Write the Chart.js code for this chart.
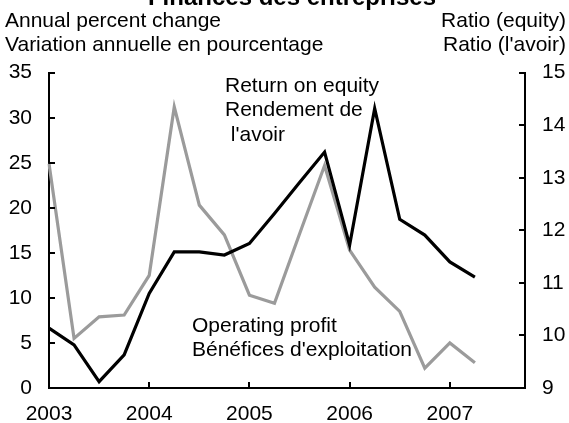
<!DOCTYPE html>
<html>
<head>
<meta charset="utf-8">
<script src="https://cdn.jsdelivr.net/npm/chart.js@4"></script>
<style>
  html, body { margin: 0; padding: 0; background: #ffffff; }
  canvas { display: block; }
</style>
</head>
<body>
<canvas id="chart" width="569" height="423"></canvas>
<script>
// Quarterly categories, 2003Q1 to 2007Q4
const quarters = [
  '2003Q1', '2003Q2', '2003Q3', '2003Q4',
  '2004Q1', '2004Q2', '2004Q3', '2004Q4',
  '2005Q1', '2005Q2', '2005Q3', '2005Q4',
  '2006Q1', '2006Q2', '2006Q3', '2006Q4',
  '2007Q1', '2007Q2', '2007Q3', '2007Q4'
];

// Operating profit, annual percent change (left axis)
const operatingProfit = [
  24.9, 5.5, 7.9, 8.1,
  12.5, 31.2, 20.3, 17.0,
  10.3, 9.4, 17.1, 24.7,
  15.3, 11.2, 8.5, 2.2,
  5.0, 2.8
];

// Return on equity, ratio (right axis)
const returnOnEquity = [
  10.14, 9.82, 9.12, 9.63,
  10.80, 11.59, 11.59, 11.53,
  11.75, 12.32, 12.91, 13.49,
  11.72, 14.32, 12.21, 11.91,
  11.40, 11.11
];

// Axis tick settings
const leftTicks = { min: 0, max: 35, step: 5 };
const rightTicks = { min: 9, max: 15, step: 1 };

// Text
const chartTitle = 'Finances des entreprises';
const leftAxisTitle = ['Annual percent change', 'Variation annuelle en pourcentage'];
const rightAxisTitle = ['Ratio (equity)', "Ratio (l'avoir)"];
const roeLabel = ['Return on equity', 'Rendement de', " l'avoir"];
const profitLabel = ['Operating profit', "Bénéfices d'exploitation"];

const FONT = "'Liberation Sans', Arial, Helvetica, sans-serif";
Chart.defaults.font.family = FONT;
Chart.defaults.font.size = 21;
Chart.defaults.color = '#000000';

// Short tick marks pointing into the plot area, plus the free-standing texts
const decorations = {
  id: 'decorations',
  afterDraw(chart) {
    const ctx = chart.ctx;
    const area = chart.chartArea;
    const x = chart.scales.x, yL = chart.scales.y, yR = chart.scales.y1;
    const len = 6;
    ctx.save();
    ctx.strokeStyle = '#000000';
    ctx.lineWidth = 2;
    ctx.beginPath();
    for (let v = leftTicks.min + leftTicks.step; v <= leftTicks.max; v += leftTicks.step) {
      const py = Math.round(yL.getPixelForValue(v));
      ctx.moveTo(area.left, py);
      ctx.lineTo(area.left + len, py);
    }
    for (let v = rightTicks.min + rightTicks.step; v <= rightTicks.max; v += rightTicks.step) {
      const py = Math.round(yR.getPixelForValue(v));
      ctx.moveTo(area.right, py);
      ctx.lineTo(area.right - len, py);
    }
    quarters.forEach((q, i) => {
      if (i > 0 && q.endsWith('Q1')) {
        const px = Math.round(x.getPixelForValue(i));
        ctx.moveTo(px, area.bottom);
        ctx.lineTo(px, area.bottom - len);
      }
    });
    ctx.stroke();

    ctx.fillStyle = '#000000';
    ctx.textBaseline = 'alphabetic';

    // title (top of the canvas)
    ctx.font = 'bold 24px ' + FONT;
    ctx.textAlign = 'center';
    ctx.fillText(chartTitle, 292, 5);

    ctx.font = '21px ' + FONT;
    ctx.textAlign = 'left';
    ctx.fillText(leftAxisTitle[0], 5, 27);
    ctx.fillText(leftAxisTitle[1], 5, 51);

    ctx.textAlign = 'right';
    ctx.fillText(rightAxisTitle[0], 566, 27);
    ctx.fillText(rightAxisTitle[1], 566, 51);

    ctx.textAlign = 'left';
    ctx.fillText(roeLabel[0], 225, 92);
    ctx.fillText(roeLabel[1], 225, 116);
    ctx.fillText(roeLabel[2], 225, 141);

    ctx.fillText(profitLabel[0], 192, 332);
    ctx.fillText(profitLabel[1], 192, 356);
    ctx.restore();
  }
};

new Chart(document.getElementById('chart'), {
  type: 'line',
  data: {
    labels: quarters,
    datasets: [
      {
        label: 'Return on equity',
        data: returnOnEquity,
        yAxisID: 'y1',
        borderColor: '#000000',
        borderWidth: 3.2,
        pointRadius: 0,
        tension: 0,
        order: 0
      },
      {
        label: 'Operating profit',
        data: operatingProfit,
        yAxisID: 'y',
        borderColor: '#9b9b9b',
        borderWidth: 3.2,
        pointRadius: 0,
        tension: 0,
        order: 1
      }
    ]
  },
  options: {
    responsive: false,
    animation: false,
    devicePixelRatio: 1,
    layout: { padding: { top: 72.7, left: 0, right: 0, bottom: 0 } },
    plugins: {
      legend: { display: false },
      title: { display: false },
      tooltip: { enabled: false }
    },
    scales: {
      x: {
        type: 'category',
        offset: false,
        grid: { display: false, drawTicks: false },
        border: { display: true, color: '#000000', width: 2 },
        ticks: {
          autoSkip: false,
          maxRotation: 0,
          padding: 14,
          callback(value, index) {
            const q = quarters[index];
            return q.endsWith('Q1') ? q.slice(0, 4) : '';
          }
        },
        afterFit(scale) { scale.height = 35; }
      },
      y: {
        position: 'left',
        min: leftTicks.min,
        max: leftTicks.max,
        grid: { display: false, drawTicks: false },
        border: { display: true, color: '#000000', width: 2 },
        ticks: { stepSize: leftTicks.step, padding: 17 },
        afterFit(scale) { scale.width = 49; }
      },
      y1: {
        position: 'right',
        min: rightTicks.min,
        max: rightTicks.max,
        grid: { display: false, drawTicks: false },
        border: { display: true, color: '#000000', width: 2 },
        ticks: { stepSize: rightTicks.step, padding: 17 },
        afterFit(scale) { scale.width = 44; }
      }
    }
  },
  plugins: [decorations]
});
</script>
</body>
</html>
